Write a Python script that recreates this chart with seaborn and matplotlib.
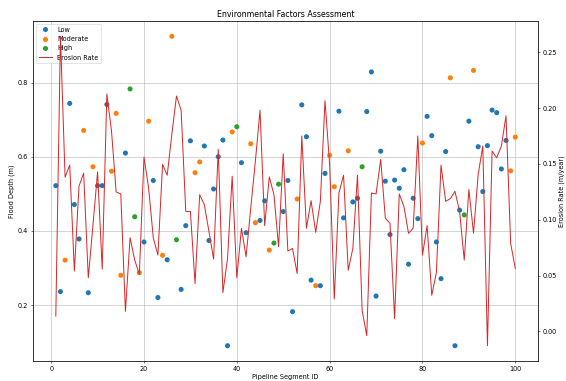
import matplotlib
matplotlib.use("Agg")
import matplotlib.pyplot as plt
import seaborn as sns
import pandas as pd

# Pipeline segments 1..100
segment_ids = list(range(1, 101))

# Flood depth (m) per segment
flood_depth = [
    0.522, 0.236, 0.321, 0.744, 0.471, 0.378, 0.671, 0.233, 0.573, 0.522,
    0.522, 0.741, 0.561, 0.717, 0.280, 0.610, 0.783, 0.438, 0.287, 0.370,
    0.696, 0.536, 0.220, 0.334, 0.322, 0.925, 0.376, 0.242, 0.414, 0.643,
    0.557, 0.586, 0.629, 0.374, 0.513, 0.600, 0.645, 0.090, 0.667, 0.681,
    0.584, 0.395, 0.635, 0.422, 0.428, 0.481, 0.348, 0.367, 0.526, 0.452,
    0.536, 0.182, 0.486, 0.740, 0.654, 0.267, 0.252, 0.252, 0.555, 0.604,
    0.519, 0.723, 0.435, 0.616, 0.478, 0.488, 0.573, 0.722, 0.829, 0.224,
    0.615, 0.534, 0.390, 0.537, 0.515, 0.565, 0.310, 0.488, 0.433, 0.637,
    0.709, 0.657, 0.370, 0.271, 0.614, 0.813, 0.090, 0.456, 0.443, 0.696,
    0.833, 0.627, 0.506, 0.630, 0.726, 0.719, 0.567, 0.644, 0.562, 0.653,
]

# Risk level per segment
risk_level = [
    "Low", "Low", "Moderate", "Low", "Low", "Low", "Moderate", "Low", "Moderate", "Low",
    "Low", "Low", "Moderate", "Moderate", "Moderate", "Low", "High", "High", "Moderate", "Low",
    "Moderate", "Low", "Low", "Moderate", "Low", "Moderate", "High", "Low", "Low", "Low",
    "Moderate", "Moderate", "Low", "Low", "Low", "Low", "Low", "Low", "Moderate", "High",
    "Low", "Low", "Moderate", "Moderate", "Low", "Low", "Moderate", "High", "High", "Low",
    "Low", "Low", "Moderate", "Low", "Low", "Low", "Moderate", "Low", "Low", "Moderate",
    "Moderate", "Low", "Low", "Moderate", "Low", "Low", "High", "Low", "Low", "Low",
    "Low", "Low", "Low", "Low", "Low", "Low", "Low", "Low", "Low", "Moderate",
    "Low", "Low", "Low", "Low", "Low", "Moderate", "Low", "Low", "High", "Low",
    "Moderate", "Low", "Low", "Low", "Low", "Low", "Low", "Low", "Moderate", "Moderate",
]

# Erosion rate (m/year) per segment
erosion_rate = [
    0.0137, 0.2641, 0.1380, 0.1488, 0.0540, 0.1300, 0.1416, 0.0480, 0.0950, 0.1428,
    0.0557, 0.2125, 0.1794, 0.1248, 0.1230, 0.0179, 0.0839, 0.0638, 0.0512, 0.1560,
    0.1284, 0.0839, 0.0683, 0.1494, 0.1398, 0.1764, 0.2107, 0.1980, 0.1074, 0.1074,
    0.0428, 0.1224, 0.1134, 0.0893, 0.0647, 0.1629, 0.0347, 0.0653, 0.1389, 0.0480,
    0.0923, 0.0668, 0.1104, 0.1524, 0.1980, 0.0947, 0.1383, 0.1224, 0.0758, 0.1590,
    0.0719, 0.0743, 0.0518, 0.1749, 0.0923, 0.1170, 0.0887, 0.1164, 0.2065, 0.1494,
    0.0290, 0.1239, 0.1398, 0.0548, 0.0743, 0.1398, 0.0188, -0.0038, 0.1239, 0.1230,
    0.1539, 0.1014, 0.0968, 0.0113, 0.1230, 0.1119, 0.0878, 0.0923, 0.1749, 0.0683,
    0.0947, 0.0323, 0.0527, 0.1488, 0.1164, 0.1188, 0.1254, 0.1074, 0.0638, 0.1269,
    0.0878, 0.1404, 0.1659, -0.0128, 0.1614, 0.1554, 0.1659, 0.1930, 0.0788, 0.0563,
]

risk_order = ["Low", "Moderate", "High"]

df = pd.DataFrame({
    "Segment": segment_ids,
    "Depth": flood_depth,
    "Risk": risk_level,
    "Erosion": erosion_rate,
})

fig = plt.figure(figsize=(12, 8.08), dpi=566 / 12)
ax = fig.add_axes([0.058, 0.052, 0.893, 0.893])

sns.scatterplot(data=df, x="Segment", y="Depth", hue="Risk",
                hue_order=risk_order, ax=ax, s=60, edgecolor="none")
ax.set_xlabel("Pipeline Segment ID")
ax.set_ylabel("Flood Depth (m)")
ax.grid(True)
ax.set_axisbelow(True)

ax2 = ax.twinx()
sns.lineplot(data=df, x="Segment", y="Erosion", ax=ax2,
             color="tab:red", label="Erosion Rate", legend=False)
ax2.set_ylabel("Erosion Rate (m/year)", labelpad=2)

h1, l1 = ax.get_legend_handles_labels()
h2, l2 = ax2.get_legend_handles_labels()
ax.legend(h1 + h2, l1 + l2, loc="upper left")

ax.set_title("Environmental Factors Assessment", fontsize=12)

fig.savefig("out.png", dpi=566 / 12)
